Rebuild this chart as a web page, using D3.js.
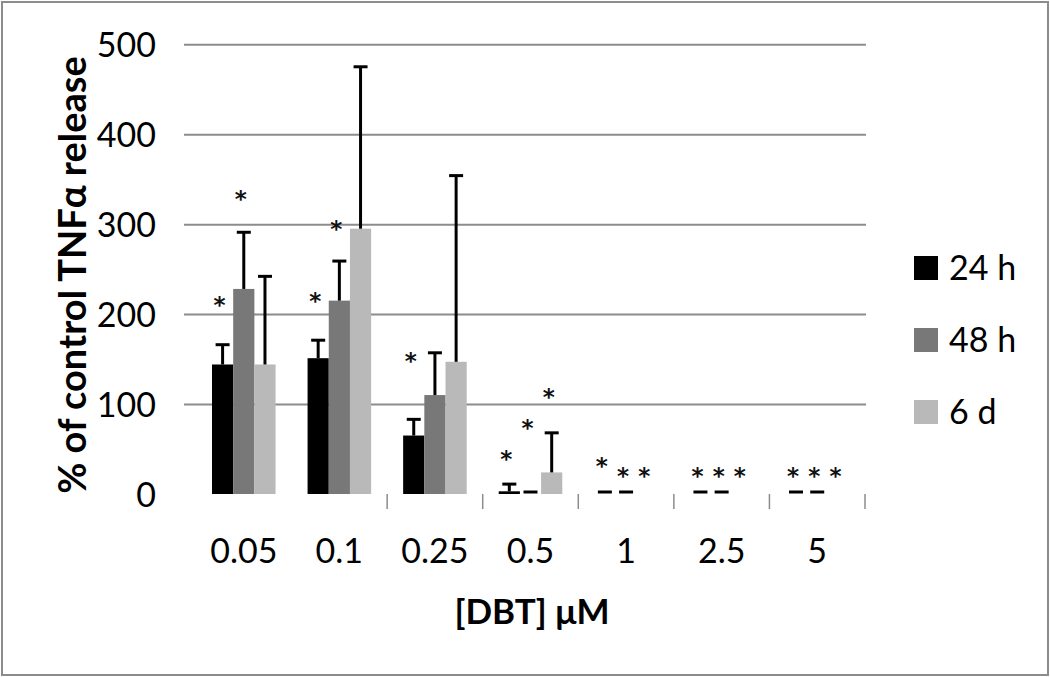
<!DOCTYPE html>
<html lang="en">
  <head>
    <meta charset="UTF-8" />
    <title>TNFa release</title>
    <script src="https://d3js.org/d3.v7.min.js"></script>
    <style>
      body { margin: 0; background: #fff; }
      text { font-family: Lato, "Open Sans", sans-serif; fill: #000; }
      .gridlines .domain, .y.axis .domain, .x.axis .domain { display: none; }
      .gridlines line { stroke: #8c8c8c; stroke-width: 2; }
    </style>
  </head>
  <body>
    <svg id="chart" width="1050" height="677"></svg>
    <script>
      // data
      const categories = ["0.05", "0.1", "0.25", "0.5", "1", "2.5", "5"];
      const series = ["24 h", "48 h", "6 d"];
      const colors = ["#000000", "#787878", "#b9b9b9"];
      const values24h = [144, 151, 65, 3, 0, 0, 0];
      const values48h = [228, 215, 110, 0, 0, 0, 0];
      const values6d = [144, 295, 147, 24, null, null, null];
      const errors24h = [22, 20, 18, 8, 0, 0, 0];
      const errors48h = [63, 44, 47, 0, 0, 0, 0];
      const errors6d = [98, 180, 207, 44, null, null, null];
      // asterisk heights (in % units), null = no asterisk
      const stars24h = [217, 221, 154, 46, 38, 27, 27];
      const stars48h = [335, 301, null, 80, 27, 27, 27];
      const stars6d = [null, null, null, 114, 27, 27, 27];
      const yTicks = [0, 100, 200, 300, 400, 500];

      const svg = d3.select("svg#chart");
      const width = +svg.attr("width");
      const height = +svg.attr("height");

      // frame
      svg.append("rect")
        .attr("x", 2).attr("y", 2)
        .attr("width", width - 4).attr("height", height - 4)
        .attr("fill", "white")
        .attr("stroke", "#8c8c8c")
        .attr("stroke-width", 2);

      const gridLeft = 184, gridRight = 866;
      const x0 = d3.scaleBand().domain(categories).range([196, 865]);
      const x1 = d3.scaleBand().domain(series).range([16, x0.bandwidth() - 16]);
      const y = d3.scaleLinear().domain([0, 500]).range([494, 44.3]);

      // gridlines (no line at 0)
      svg.append("g")
        .attr("class", "gridlines")
        .attr("transform", `translate(${gridLeft},0)`)
        .call(d3.axisLeft(y).tickValues(yTicks.slice(1))
          .tickSize(-(gridRight - gridLeft)).tickFormat(""));

      // y tick labels
      svg.append("g")
        .attr("class", "y axis")
        .attr("transform", `translate(${gridLeft},0)`)
        .call(d3.axisLeft(y).tickValues(yTicks).tickSize(0).tickPadding(28))
        .selectAll("text")
        .style("font-size", "34px")
        .attr("dy", "0.36em");

      // x labels
      svg.append("g")
        .attr("class", "x axis")
        .attr("transform", `translate(0,${y(0)})`)
        .call(d3.axisBottom(x0).tickSize(0).tickPadding(45))
        .selectAll("text")
        .style("font-size", "34px");

      // category separators (the first two are not visible in the original)
      const seps = categories.slice(2).map(c => x0(c)).concat([x0.range()[1]]);
      svg.selectAll("line.sep").data(seps)
        .join("line")
        .attr("class", "sep")
        .attr("x1", d => d).attr("x2", d => d)
        .attr("y1", y(0)).attr("y2", y(0) + 15)
        .attr("stroke", "#8c8c8c")
        .attr("stroke-width", 1.5);

      const allValues = [values24h, values48h, values6d];
      const allErrors = [errors24h, errors48h, errors6d];
      const allStars = [stars24h, stars48h, stars6d];

      series.forEach((s, si) => {
        const rows = categories.map((c, ci) => ({
          cat: c, value: allValues[si][ci], err: allErrors[si][ci], star: allStars[si][ci]
        }));
        const g = svg.append("g").attr("class", "series");
        const cx = d => x0(d.cat) + x1(s) + x1.bandwidth() / 2;

        g.selectAll("rect").data(rows.filter(d => d.value > 0))
          .join("rect")
          .attr("x", d => x0(d.cat) + x1(s))
          .attr("y", d => y(d.value))
          .attr("width", x1.bandwidth())
          .attr("height", d => y(0) - y(d.value))
          .attr("fill", colors[si]);

        const eb = rows.filter(d => d.value !== null);
        g.selectAll("line.stem").data(eb.filter(d => d.err > 0))
          .join("line")
          .attr("class", "stem")
          .attr("x1", cx).attr("x2", cx)
          .attr("y1", d => y(d.value))
          .attr("y2", d => y(d.value + d.err))
          .attr("stroke", "black").attr("stroke-width", 3);

        g.selectAll("line.cap").data(eb)
          .join("line")
          .attr("class", "cap")
          .attr("x1", d => cx(d) - 7).attr("x2", d => cx(d) + 7)
          .attr("y1", d => Math.min(y(d.value + d.err), y(0) - 2))
          .attr("y2", d => Math.min(y(d.value + d.err), y(0) - 2))
          .attr("stroke", "black").attr("stroke-width", 3);

        g.selectAll("text.star").data(rows.filter(d => d.star !== null))
          .join("text")
          .attr("class", "star")
          .attr("x", d => cx(d) - 3)
          .attr("y", d => y(d.star) + 14)
          .attr("text-anchor", "middle")
          .style("font-family", "DejaVu Sans")
          .style("font-weight", "bold")
          .style("font-size", "23px")
          .style("fill", "#111")
          .text("*");
      });

      // legend
      const legend = svg.append("g").attr("transform", "translate(914,256)");
      series.forEach((s, i) => {
        legend.append("rect")
          .attr("x", 0).attr("y", i * 72)
          .attr("width", 24).attr("height", 24)
          .attr("fill", colors[i]);
        legend.append("text")
          .attr("x", 35).attr("y", i * 72 + 24)
          .style("font-size", "34px")
          .text(s);
      });

      // axis titles
      svg.append("text")
        .attr("transform", "translate(86,275) rotate(-90)")
        .attr("text-anchor", "middle")
        .style("font-size", "38px")
        .style("font-weight", "bold")
        .text("% of control TNFα release");

      svg.append("text")
        .attr("x", 532).attr("y", 624)
        .attr("text-anchor", "middle")
        .style("font-size", "35px")
        .style("font-weight", "bold")
        .text("[DBT] μM");
    </script>
  </body>
</html>
